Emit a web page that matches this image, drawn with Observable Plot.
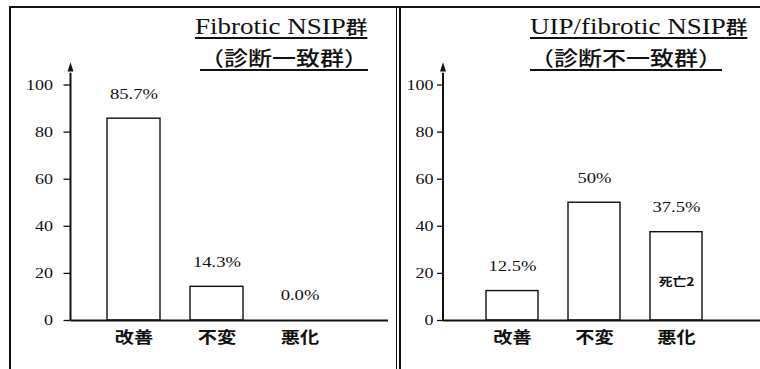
<!DOCTYPE html>
<html>
<head>
<meta charset="utf-8">
<script src="https://cdn.jsdelivr.net/npm/d3@7"></script>
<script src="https://cdn.jsdelivr.net/npm/@observablehq/plot@0.6"></script>
<style>
  html, body { margin: 0; padding: 0; background: #fff; }
  #wrap { position: relative; width: 760px; height: 369px; overflow: hidden; background: #fff; }
  .line { position: absolute; background: #111; }
  .panel { position: absolute; top: 0; }
  .title {
    position: absolute; white-space: nowrap; color: #111;
    font-family: "Liberation Serif", serif;
    transform-origin: left top; transform: scaleX(1.2);
    text-decoration: underline; text-decoration-thickness: 1.5px;
  }
  .t1 { font-size: 22.5px; line-height: 22.5px; text-underline-offset: 3px; }
  .t2 { font-size: 20px; line-height: 20px; text-underline-offset: 3px; }
  .cjk { font-family: "Noto Sans CJK JP", sans-serif; font-weight: 500; }
  .t1 .cjk { font-size: 18px; }
</style>
</head>
<body>
<div id="wrap"></div>
<script>
// Outcome categories and the share of patients (%) in each group
const categories = ["改善", "不変", "悪化"];
const leftValues = [85.7, 14.3, 0.0];
const rightValues = [12.5, 50, 37.5];
const rightNotes = ["", "", "死亡2"];
const yTicks = [0, 20, 40, 60, 80, 100];
const leftTitle = ["Fibrotic NSIP群", "（診断一致群）"];
const rightTitle = ["UIP/fibrotic NSIP群", "（診断不一致群）"];

const SERIF = "'Liberation Serif', 'Times New Roman', serif";
const CJK = "'Noto Sans CJK JP', sans-serif";
const wrap = document.getElementById("wrap");

// Panel frame lines
function frameLine(left, top, width, height) {
  const d = document.createElement("div");
  d.className = "line";
  Object.assign(d.style, {left: left + "px", top: top + "px", width: width + "px", height: height + "px"});
  wrap.appendChild(d);
}

// Pick the face for each label (serif for numbers, gothic for Japanese)
// and widen it horizontally about its anchor point
function styleText(svg, k) {
  d3.select(svg).selectAll("text").each(function () {
    const isCjk = /[\u3000-\u9fff]/.test(this.textContent);
    this.style.fontFamily = isCjk ? CJK : SERIF;
    const x = +this.getAttribute("x") || 0;
    const tr = this.getAttribute("transform") || "";
    this.setAttribute("transform", `${tr} translate(${x},0) scale(${k},1) translate(${-x},0)`);
  });
}

function panel(opts) {
  const rows = categories.map((c, i) => ({
    cat: c,
    value: opts.values[i],
    note: opts.notes ? opts.notes[i] : ""
  }));
  const chart = Plot.plot({
    width: opts.width,
    height: 369,
    marginLeft: opts.marginLeft,
    marginRight: opts.marginRight,
    marginTop: 84.5,
    marginBottom: 49,
    style: {background: "transparent", overflow: "visible", color: "#111"},
    x: {domain: categories, range: opts.xRange, paddingInner: 0.36, paddingOuter: 0.18, label: null},
    y: {domain: [0, 100], label: null},
    marks: [
      Plot.barY(rows, {x: "cat", y: "value", fill: "white", stroke: "#111", strokeWidth: 1.4}),
      Plot.text(rows, {
        x: "cat", y: "value", text: d => opts.format(d.value),
        dy: -25, fontSize: 15.5, fill: "#111"
      }),
      Plot.text(rows.filter(d => d.note), {
        x: "cat", y: d => d.value / 2, text: "note",
        fontSize: 11.5, fontWeight: "bold", fill: "#111", dy: 6
      }),
      Plot.ruleY([0], {stroke: "#111", strokeWidth: 2}),
      Plot.axisY({
        ticks: yTicks, tickFormat: d => String(d), label: null,
        tickSize: opts.tickSize, tickPadding: opts.tickPadding,
        fontSize: 15, fill: "#111", stroke: "#111", strokeWidth: 1.3
      }),
      Plot.axisX({
        tickSize: 0, tickPadding: 11, fontSize: 16, fontWeight: "bold", fill: "#111", label: null
      })
    ]
  });

  // Vertical axis line with an arrowhead above the top tick
  const y = chart.scale("y");
  const svg = d3.select(chart);
  const ax = opts.marginLeft;
  svg.append("line")
    .attr("x1", ax).attr("x2", ax)
    .attr("y1", y.apply(0)).attr("y2", y.apply(105))
    .attr("stroke", "#111").attr("stroke-width", 2);
  svg.append("path")
    .attr("d", `M${ax},${y.apply(109.5)}L${ax - 3},${y.apply(105.5)}L${ax + 3},${y.apply(105.5)}Z`)
    .attr("fill", "#111");

  styleText(chart, 1.2);
  chart.classList.add("panel");
  chart.style.left = opts.left + "px";
  wrap.appendChild(chart);
}

function title(lines, left1, left2) {
  const tops = [15, 47.5];
  lines.forEach((text, i) => {
    const d = document.createElement("div");
    d.className = "title " + (i === 0 ? "t1" : "t2 cjk");
    d.style.left = (i === 0 ? left1 : left2) + "px";
    d.style.top = tops[i] + "px";
    if (i === 0) {
      // Latin part in serif, trailing CJK in gothic
      const m = text.match(/^([\x00-\x7F]+)(.*)$/);
      d.append(m[1]);
      const s = document.createElement("span");
      s.className = "cjk";
      s.textContent = m[2];
      d.appendChild(s);
    } else {
      d.textContent = text;
    }
    wrap.appendChild(d);
  });
}

panel({
  values: leftValues, format: v => v.toFixed(1) + "%",
  left: 0, width: 395, marginLeft: 70.5, marginRight: 7,
  xRange: [92, 341], tickSize: 7, tickPadding: 11
});
panel({
  values: rightValues, notes: rightNotes, format: v => v + "%",
  left: 400, width: 360, marginLeft: 43, marginRight: 0,
  xRange: [70, 317.5], tickSize: 6, tickPadding: 4
});

frameLine(9, 6, 751, 1.5);
frameLine(9, 6, 1.5, 363);
frameLine(396, 6, 1.4, 363);
frameLine(399.2, 6, 1.4, 363);

title(leftTitle, 195, 200);
title(rightTitle, 530, 530);
</script>
</body>
</html>
